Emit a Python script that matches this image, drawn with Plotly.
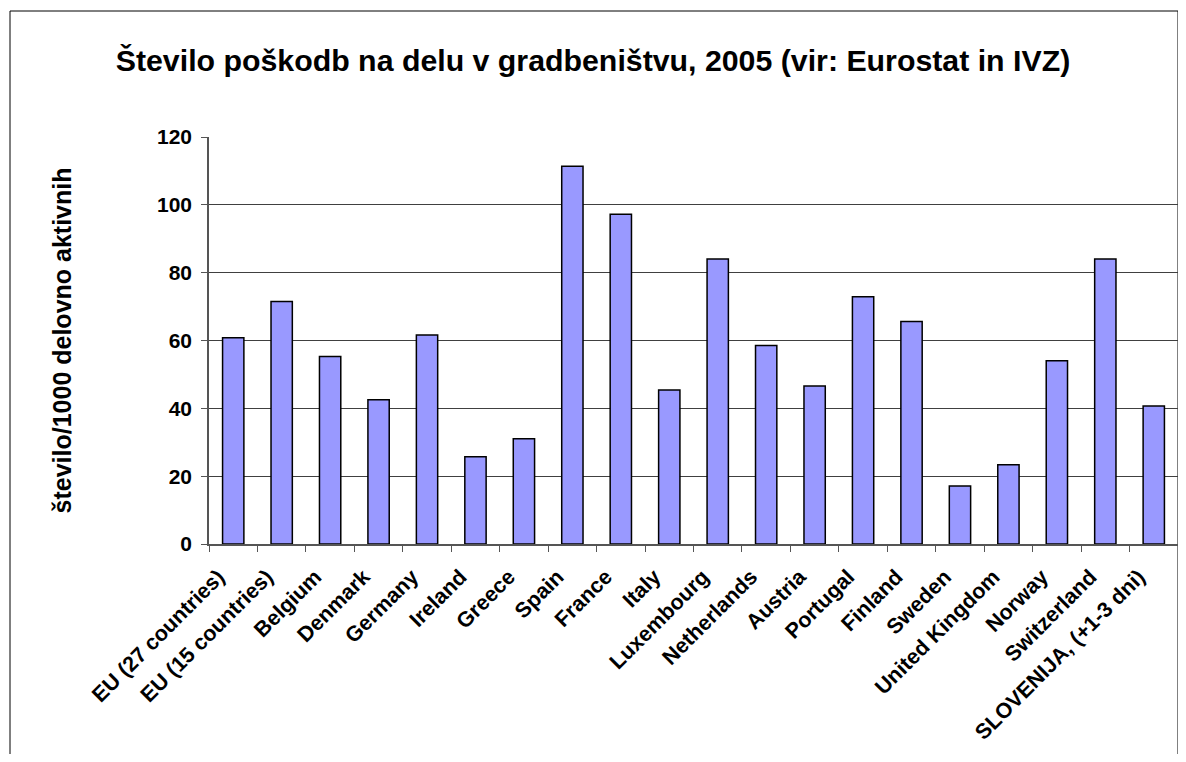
import plotly.graph_objects as go

countries = ["EU (27 countries)", "EU (15 countries)", "Belgium", "Denmark", "Germany",
             "Ireland", "Greece", "Spain", "France", "Italy", "Luxembourg", "Netherlands",
             "Austria", "Portugal", "Finland", "Sweden", "United Kingdom", "Norway",
             "Switzerland", "SLOVENIJA, (+1-3 dni)"]
injuries = [60.8, 71.5, 55.3, 42.5, 61.6, 25.7, 31.0, 111.4, 97.2, 45.4, 84.0, 58.5,
            46.6, 72.9, 65.6, 17.1, 23.4, 54.0, 84.0, 40.7]

font_family = "Liberation Sans, Arial, sans-serif"

# figure is drawn 8px in from the page corner (body margin), so sizes are trimmed
W, H = 1170, 746
L, R, T, B = 201, 0, 129, 210
pw, ph = W - L - R, H - T - B

fig = go.Figure()
fig.add_trace(go.Bar(
    x=countries, y=injuries,
    marker=dict(color="#9999ff", line=dict(color="black", width=1.5)),
))

fig.update_layout(
    width=W, height=H,
    margin=dict(l=L, r=R, t=T, b=B, autoexpand=False),
    paper_bgcolor="white", plot_bgcolor="white",
    bargap=0.56,
    showlegend=False,
    font=dict(family=font_family, color="black", size=21, weight="bold"),
    title=dict(text="Število poškodb na delu v gradbeništvu, 2005 (vir: Eurostat in IVZ)",
               x=0.5, xanchor="center", y=1 - 52 / H, yanchor="middle",
               font=dict(size=30.3, family=font_family, weight="bold")),
    shapes=[dict(type="rect", xref="paper", yref="paper",
                 x0=(2 - L) / pw, x1=1.0, y0=-(B + 20) / ph, y1=1 + (T - 3) / ph,
                 line=dict(color="black", width=1), layer="below")],
)
fig.update_xaxes(
    tickangle=-45, tickson="boundaries", ticks="outside", ticklen=6,
    tickcolor="#555", showline=True, linecolor="#555", linewidth=1.5,
    ticklabelshift=-15, ticklabelstandoff=10,
    showgrid=False, tickfont=dict(size=21.5),
)
fig.update_yaxes(
    range=[0, 120], dtick=20, ticks="outside", ticklen=6, tickcolor="#555",
    ticklabelstandoff=5,
    showline=True, linecolor="#555", linewidth=1.5,
    showgrid=True, gridcolor="#404040", gridwidth=1, zeroline=False,
    tickfont=dict(size=21),
    title=dict(text="število/1000 delovno aktivnih", font=dict(size=25), standoff=78),
)

fig.write_html("out.html")
